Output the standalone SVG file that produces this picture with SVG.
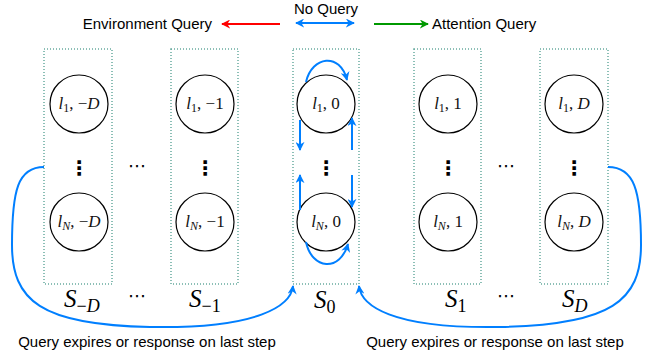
<svg xmlns="http://www.w3.org/2000/svg" width="660" height="358" viewBox="0 0 660 358">
<defs>
<marker id="ar" viewBox="0 0 10 10" refX="9" refY="5" markerWidth="9" markerHeight="9" orient="auto-start-reverse" markerUnits="userSpaceOnUse"><path d="M0,0 L10,5 L0,10 L3,5 Z" fill="#FF0000"/></marker>
<marker id="ag" viewBox="0 0 10 10" refX="9" refY="5" markerWidth="9" markerHeight="9" orient="auto-start-reverse" markerUnits="userSpaceOnUse"><path d="M0,0 L10,5 L0,10 L3,5 Z" fill="#009900"/></marker>
<marker id="abb" viewBox="0 0 10 10" refX="9" refY="5" markerWidth="9" markerHeight="9" orient="auto-start-reverse" markerUnits="userSpaceOnUse"><path d="M0,0 L10,5 L0,10 L3,5 Z" fill="#007FFF"/></marker>
</defs>
<style>
.box{fill:none;stroke:#67AB9F;stroke-width:1.5;stroke-dasharray:1 2}
.st{fill:#fff;stroke:#000;stroke-width:1.2}
.m{font-family:"Liberation Serif",serif;font-size:17px;fill:#111;text-anchor:middle}
.i{font-style:italic}
.sub{font-size:12px}
.S{font-family:"Liberation Serif",serif;font-size:25px;fill:#000}
.Ssub{font-size:18px}
.t{font-family:"Liberation Sans",Arial,sans-serif;font-size:15px;fill:#000}
.dots{font-family:"DejaVu Sans",sans-serif;font-size:20px;font-weight:bold;fill:#000;text-anchor:middle}
.hd{font-family:"DejaVu Sans",sans-serif;font-size:18px;fill:#000;text-anchor:middle}
.c{fill:none;stroke:#007FFF;stroke-width:2}
</style>

<g id="legend">
<text class="t" x="212" y="29" text-anchor="end">Environment Query</text>
<text class="t" x="326" y="14" text-anchor="middle">No Query</text>
<text class="t" x="432" y="29">Attention Query</text>
<line x1="280" y1="24" x2="222" y2="24" stroke="#FF0000" stroke-width="2" marker-end="url(#ar)"/>
<line x1="296" y1="23" x2="354" y2="23" stroke="#007FFF" stroke-width="2" marker-start="url(#abb)" marker-end="url(#abb)"/>
<line x1="374" y1="24" x2="428" y2="24" stroke="#009900" stroke-width="2" marker-end="url(#ag)"/>
</g>

<g id="S_-D">
<rect class="box" x="44" y="49" width="68" height="235"/>
<text class="S i" x="64" y="307">S<tspan class="Ssub" dy="5" font-style="normal">−</tspan><tspan class="Ssub" font-style="italic">D</tspan></text>
</g>
<g id="S_-1">
<rect class="box" x="171" y="49" width="67" height="235"/>
<text class="S i" x="189" y="307">S<tspan class="Ssub" dy="5" font-style="normal">−1</tspan></text>
</g>
<g id="S_0">
<rect class="box" x="293" y="49" width="66" height="235"/>
<text class="S i" x="314" y="308">S<tspan class="Ssub" dy="5" font-style="normal">0</tspan></text>
</g>
<g id="S_1">
<rect class="box" x="414" y="49" width="67" height="235"/>
<text class="S i" x="445" y="307">S<tspan class="Ssub" dy="5" font-style="normal">1</tspan></text>
</g>
<g id="S_D">
<rect class="box" x="540" y="49" width="68" height="235"/>
<text class="S i" x="562" y="307">S<tspan class="Ssub" dy="5">D</tspan></text>
</g>

<g id="n1_-D"><circle class="st" cx="79" cy="104" r="29"/><text class="m" x="79" y="109"><tspan class="i">l</tspan><tspan class="sub" dy="3">1</tspan><tspan dy="-3">, −</tspan><tspan class="i">D</tspan></text></g>
<g id="nN_-D"><circle class="st" cx="79" cy="222" r="29"/><text class="m" x="79" y="227"><tspan class="i">l</tspan><tspan class="sub i" dy="3">N</tspan><tspan dy="-3">, −</tspan><tspan class="i">D</tspan></text></g>
<g id="n1_-1"><circle class="st" cx="205" cy="104" r="29"/><text class="m" x="205" y="109"><tspan class="i">l</tspan><tspan class="sub" dy="3">1</tspan><tspan dy="-3">, −1</tspan></text></g>
<g id="nN_-1"><circle class="st" cx="205" cy="222" r="29"/><text class="m" x="205" y="227"><tspan class="i">l</tspan><tspan class="sub i" dy="3">N</tspan><tspan dy="-3">, −1</tspan></text></g>
<g id="n1_0"><circle class="st" cx="326" cy="104" r="29"/><text class="m" x="326" y="109"><tspan class="i">l</tspan><tspan class="sub" dy="3">1</tspan><tspan dy="-3">, 0</tspan></text></g>
<g id="nN_0"><circle class="st" cx="326" cy="222" r="29"/><text class="m" x="326" y="227"><tspan class="i">l</tspan><tspan class="sub i" dy="3">N</tspan><tspan dy="-3">, 0</tspan></text></g>
<g id="n1_1"><circle class="st" cx="448" cy="104" r="29"/><text class="m" x="448" y="109"><tspan class="i">l</tspan><tspan class="sub" dy="3">1</tspan><tspan dy="-3">, 1</tspan></text></g>
<g id="nN_1"><circle class="st" cx="448" cy="222" r="29"/><text class="m" x="448" y="227"><tspan class="i">l</tspan><tspan class="sub i" dy="3">N</tspan><tspan dy="-3">, 1</tspan></text></g>
<g id="n1_D"><circle class="st" cx="574" cy="104" r="29"/><text class="m" x="574" y="109"><tspan class="i">l</tspan><tspan class="sub" dy="3">1</tspan><tspan dy="-3">, </tspan><tspan class="i">D</tspan></text></g>
<g id="nN_D"><circle class="st" cx="574" cy="222" r="29"/><text class="m" x="574" y="227"><tspan class="i">l</tspan><tspan class="sub i" dy="3">N</tspan><tspan dy="-3">, </tspan><tspan class="i">D</tspan></text></g>

<g id="ellipses">
<text class="dots" x="79" y="175">⋮</text>
<text class="dots" x="205" y="175">⋮</text>
<text class="dots" x="326" y="175">⋮</text>
<text class="dots" x="448" y="175">⋮</text>
<text class="dots" x="574" y="175">⋮</text>
<text class="hd" x="137" y="172">⋯</text>
<text class="hd" x="506" y="172">⋯</text>
<text class="hd" x="137" y="302">⋯</text>
<text class="hd" x="506" y="302">⋯</text>
</g>

<g id="connectors">
<path class="c" d="M44,167 C18,167 12,190 12,245 C12,300 40,325 150,327 C260,329 291,305 293,286" marker-end="url(#abb)"/>
<path class="c" d="M608,167 C634,167 641,190 641,245 C641,300 612,325 500,327 C390,329 361,305 359,286" marker-end="url(#abb)"/>
<path class="c" d="M306,82 C312,56 340,52 347,80" marker-end="url(#abb)"/>
<path class="c" d="M306,242 C312,270 340,272 348,244" marker-end="url(#abb)"/>
<path class="c" d="M300,120 L300,150" marker-end="url(#abb)"/>
<path class="c" d="M352,150 L352,118" marker-end="url(#abb)"/>
<path class="c" d="M300,210 L300,175" marker-end="url(#abb)"/>
<path class="c" d="M352,175 L352,207" marker-end="url(#abb)"/>
</g>

<g id="captions">
<text class="t" x="147" y="347" text-anchor="middle">Query expires or response on last step</text>
<text class="t" x="495" y="347" text-anchor="middle">Query expires or response on last step</text>
</g>
</svg>
